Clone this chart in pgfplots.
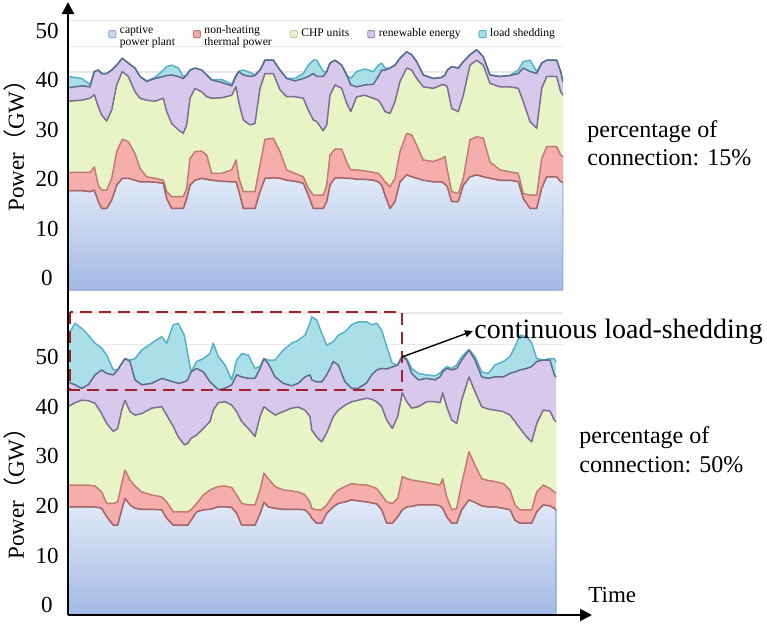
\documentclass[border=0pt]{standalone}
\usepackage{fontspec}
\setmainfont{Liberation Serif}
\newfontfamily\cjk{Noto Sans CJK SC}
\usepackage{pgfplots}
\pgfplotsset{compat=1.18}
\usepackage{pgfplotstable}
\usetikzlibrary{arrows.meta}

\definecolor{bTop}{HTML}{E3EBF8}
\definecolor{bBot}{HTML}{A3B9E4}
\definecolor{bEdge}{HTML}{8FA9D9}
\definecolor{capL}{HTML}{A86464}
\definecolor{nhF}{HTML}{F5AEAB}
\definecolor{nhL}{HTML}{BF7C74}
\definecolor{chpF}{HTML}{E8F4C6}
\definecolor{chpL}{HTML}{7B6F8F}
\definecolor{renF}{HTML}{D8C9EC}
\definecolor{renL}{HTML}{5D6C8C}
\definecolor{lsF}{HTML}{AADFE9}
\definecolor{lsL}{HTML}{55B2C6}
\definecolor{boxred}{HTML}{A3212A}

% top panel: 15% connection (cumulative tops of each layer, GW)
\pgfplotstableread{
x cap nh chp ren ls
0 17.7 21.4 35.8 38.5 40.8
13.7 17.7 21.4 36.0 38.9 40.4
22 17.5 21.4 36.4 38.7 39.2
26.3 17.8 22.5 37.1 41.8 41.8
30.3 15.5 18.8 34.7 42.1 42.1
33.7 14.1 17.8 33.0 41.4 41.4
38.7 14.1 17.8 31.8 41.4 41.4
43.7 15.8 20.2 34.0 42.1 42.1
48.7 18.8 25.6 39.1 43.1 43.1
54.3 20.2 28.1 41.8 44.5 44.5
60.3 20.2 27.6 40.8 43.5 43.5
67 19.8 25.2 37.7 42.5 42.5
72 19.5 22.2 36.4 40.8 40.8
78.7 19.5 20.5 36.0 39.8 39.9
87 19.4 20.2 35.8 40.4 40.6
95.3 19.2 19.8 36.4 40.8 42.1
98.7 16.1 17.5 33.7 41.0 42.8
103.7 14.1 16.5 31.3 41.1 43.1
110.3 14.1 16.5 30.0 40.8 42.5
115.3 14.1 16.5 29.3 40.4 40.8
118.7 16.1 18.2 31.0 41.1 41.1
122 18.8 24.2 36.4 42.1 42.1
127 19.8 25.6 38.4 42.5 42.5
133.7 20.2 25.7 37.7 42.1 42.1
138.7 20.0 24.9 36.7 41.1 41.1
143.7 19.8 21.2 36.4 40.1 40.1
153.7 19.6 21.2 36.5 39.6 40.2
163.7 19.5 21.9 37.0 38.9 39.2
168 19.5 23.9 38.7 40.8 41.1
171 17.5 20.2 35.4 41.8 41.9
175.3 14.1 17.5 32.0 41.1 42.1
182 14.1 17.5 31.0 40.8 41.6
187 14.1 17.5 31.3 41.0 41.1
192 17.5 22.9 38.4 42.1 42.1
197 20.2 28.1 41.4 44.1 44.1
205.3 20.3 28.3 41.4 44.1 44.1
212 20.2 25.6 38.1 42.1 42.1
218.7 19.8 21.9 36.7 40.4 40.4
227 19.6 21.2 36.7 39.9 40.4
235.3 19.2 20.5 36.4 40.4 41.4
240.3 16.8 18.2 34.0 40.8 43.1
245.3 14.1 16.8 32.0 41.4 44.1
248.7 14.1 16.8 31.7 40.8 44.1
255.3 14.1 16.8 29.8 40.8 41.8
258.7 15.5 18.8 31.0 41.8 41.8
262 18.8 24.9 37.0 43.5 43.5
267 20.3 26.1 39.1 44.1 44.1
273.7 20.3 26.1 38.4 43.1 43.1
278.7 20.2 23.5 35.4 41.1 41.1
282.7 20.2 21.9 33.7 39.1 40.4
288.7 20.0 21.9 36.7 38.7 41.8
297 20.0 21.7 37.0 39.1 42.3
305.3 19.8 21.4 36.4 39.2 41.8
310.3 19.5 21.2 36.0 40.8 43.1
313.7 18.8 20.5 35.0 42.1 43.5
317 16.8 19.5 33.7 42.1 42.5
322 14.1 18.5 33.3 42.5 42.5
327 15.5 20.2 35.7 43.1 43.1
332 19.5 25.6 39.8 44.5 44.5
338.7 20.9 29.3 42.5 45.8 45.8
343.7 20.5 29.0 42.1 45.2 45.2
348.7 20.2 26.9 40.4 43.8 43.8
355.3 19.8 23.9 38.7 41.1 41.1
365.3 19.5 23.6 38.4 40.4 40.4
373.7 19.5 24.2 39.1 40.6 40.6
377 19.0 24.6 39.1 41.1 41.1
379.3 18.5 21.9 38.7 42.1 42.1
383.7 15.5 17.5 34.3 42.8 42.8
390.3 15.5 17.1 33.7 42.5 42.5
395.3 18.8 20.2 37.0 43.8 43.8
402 20.5 28.0 43.1 45.2 45.2
408.7 20.9 28.6 44.1 46.2 46.2
415.3 20.5 28.3 43.1 44.8 44.8
422 20.2 23.5 39.4 41.1 41.1
432 19.8 21.9 38.7 40.8 40.8
442 19.8 21.5 38.7 41.0 41.0
450.3 19.5 21.2 38.4 41.4 42.1
455.3 16.1 17.1 35.7 42.5 43.8
462 14.1 16.8 31.7 41.8 44.1
468.7 14.1 16.8 30.3 41.4 41.8
473.7 18.2 24.2 38.4 43.5 43.5
478.7 20.5 26.6 40.8 44.1 44.1
488.7 20.5 26.6 40.8 44.1 44.1
492.7 19.5 24.9 37.7 41.8 41.8
495 19.5 24.6 37.0 39.7 39.7
}\toptab

% bottom panel: 50% connection
\pgfplotstableread{
x cap nh chp ren ls
0 19.8 24.2 40.0 45.0 54.4
7 19.8 24.2 40.8 44.4 56.8
13.7 19.8 24.2 41.3 43.7 55.8
20.3 19.8 24.2 41.2 44.4 54.4
27 19.8 24.0 40.7 46.4 52.8
33.7 19.5 22.8 38.6 47.4 51.8
38.7 17.8 20.5 36.6 46.7 50.4
45.3 16.1 20.5 35.0 46.4 47.4
49.7 16.1 20.8 35.6 47.4 47.4
53.7 19.2 24.5 39.3 48.7 48.7
57 21.5 27.2 41.3 49.7 49.7
62 20.2 25.2 39.0 49.1 49.4
67 19.5 24.0 38.3 45.4 49.7
73.7 19.3 22.8 38.6 44.4 51.4
83.7 19.3 22.2 39.7 44.7 52.8
93.7 19.2 21.8 40.0 45.7 54.1
98.7 17.5 20.8 38.3 45.4 52.8
105.3 16.1 18.8 36.0 45.0 56.5
110.3 16.1 18.8 33.9 44.7 56.8
116.3 16.1 18.8 32.3 45.0 54.4
119.7 16.1 18.8 32.6 45.4 50.7
123 17.1 19.2 33.6 47.0 47.0
128.7 18.8 20.5 34.3 47.7 49.1
135.3 19.2 22.2 35.6 47.0 49.7
142 19.3 23.2 37.0 45.0 50.7
145.3 19.5 23.5 39.3 44.4 52.8
150.3 19.8 23.9 40.8 43.4 50.1
157 19.8 24.0 41.0 43.7 48.4
163.7 19.7 23.7 40.3 44.4 45.4
168.7 18.5 22.2 39.0 46.4 49.4
173.7 16.1 20.5 37.0 46.0 50.7
180.3 16.1 20.2 35.6 45.7 50.4
187 16.1 20.2 34.0 45.7 47.7
192 18.4 23.2 38.0 47.7 48.1
196 20.7 26.6 40.0 49.7 49.7
200.3 19.8 25.5 39.3 48.7 49.4
207 19.5 23.9 38.3 46.0 49.4
215.3 19.3 23.2 39.0 44.7 51.4
223.7 19.3 23.0 39.7 44.2 52.8
230.3 19.3 22.8 39.9 44.7 53.4
237 19.2 22.2 39.3 46.0 54.4
242 18.2 20.8 38.0 46.4 56.8
243.7 17.5 19.5 35.3 45.4 58.1
248.7 16.5 19.2 33.9 45.0 57.5
253.7 16.5 19.2 32.9 45.0 54.8
258.7 18.5 20.2 34.7 46.4 52.4
265.3 19.8 22.2 38.0 49.1 53.1
270.3 20.5 23.2 39.3 48.4 54.4
277 20.8 23.9 40.3 45.0 55.1
283.7 21.2 24.5 41.0 43.7 56.5
290.3 21.0 24.3 41.3 43.7 57.1
298.7 20.8 24.2 41.7 44.8 57.1
303.7 20.6 23.9 41.5 46.4 56.5
308.7 20.4 23.5 41.0 47.4 56.8
313.7 19.2 22.2 40.0 47.7 55.4
318.7 16.5 20.8 37.3 47.6 52.1
324.3 16.5 20.5 35.6 48.0 48.7
329.7 17.8 21.5 38.0 48.4 48.4
334.3 19.2 25.9 42.8 50.1 50.4
338.7 19.8 25.5 41.0 49.4 49.7
343.7 19.9 25.2 39.7 46.7 47.7
350.3 20.2 25.0 40.0 45.4 46.7
358.7 20.2 24.7 41.0 45.7 46.4
367 20.2 24.4 41.0 45.4 46.2
372 20.0 24.2 40.8 46.0 46.8
374.7 19.5 25.5 42.8 47.0 47.4
378.7 17.8 21.8 40.0 47.7 48.1
383.7 16.5 19.2 37.3 47.4 47.7
388.7 16.5 19.5 36.6 47.7 48.4
393.7 19.2 24.5 41.3 49.4 50.1
401 21.2 30.9 46.0 51.4 51.5
407 20.7 28.2 43.0 49.4 50.1
413.7 20.0 25.5 40.0 46.0 47.0
420.3 19.8 25.1 39.5 45.7 46.7
427 19.8 24.9 39.3 46.0 48.4
435.3 19.5 24.5 39.0 46.0 49.1
442 19.2 23.2 38.3 46.7 50.1
447 17.1 20.2 37.0 47.0 52.1
452 16.5 19.2 35.6 47.4 54.4
458.7 16.5 19.2 33.9 47.7 54.1
463.7 16.5 19.2 32.9 48.1 52.8
468.7 18.8 22.8 36.6 49.1 49.7
475.3 20.2 24.2 39.3 49.4 49.4
482 20.0 23.5 39.1 49.4 49.7
486.3 19.5 22.8 37.3 46.4 49.7
488 19.2 22.6 37.0 46.0 49.0
}\bottab

\pgfplotsset{
  panel/.style={
    scale only axis, width=247.5pt,
    xmin=0, xmax=495,
    axis line style={draw=none},
    tick style={draw=none}, major tick length=0pt,
    xtick=\empty, ytick={0,10,20,30,40,50},
    /pgf/number format/assume math mode=true,
    yticklabel style={anchor=center, xshift=-10.5pt, font=\rmfamily\fontsize{11.5}{12}\selectfont},
    extra y tick labels={},
    extra y tick style={grid=major, major grid style={draw=black!9, line width=0.6pt}},
    ylabel={Power{\cjk （}GW{\cjk ）}},
    clip=true,
  },
  fl/.style={draw=none, forget plot},
  ln/.style={line width=0.75pt, line join=round, forget plot},
  sqleg/.style={legend image code/.code={\draw[##1, line width=0.45pt, rounded corners=0.5pt] (0pt,-1.75pt) rectangle (3.5pt,1.75pt);}},
}

\begin{document}
\begin{tikzpicture}
\useasboundingbox (0pt,0pt) rectangle (383.5pt,-313.5pt);

% ---------- top panel ----------
\begin{axis}[panel, at={(34pt,-145pt)}, anchor=south west,
  height=136pt, ymin=-2.4, ymax=52.63,
  extra y ticks={41.7,46.9,52.2},
  every axis y label/.style={at={(rel axis cs:-0.107,0.551)}, rotate=90, anchor=center, font=\fontsize{11.5}{12}\selectfont},
  legend columns=5, legend cell align=left,
  legend style={at={(rel axis cs:0.0808,0.941)}, anchor=west, draw=none, fill=none,
    inner sep=0pt, font=\fontsize{5.8}{6}\selectfont,
    /tikz/every even column/.append style={column sep=7.2pt},
    nodes={inner xsep=1.8pt}},
]
\addplot[fl, fill=lsF] table[x=x,y=ls]{\toptab} |- (axis cs:0,-2.4) -- cycle;
\addplot[fl, fill=renF] table[x=x,y=ren]{\toptab} |- (axis cs:0,-2.4) -- cycle;
\addplot[fl, fill=chpF] table[x=x,y=chp]{\toptab} |- (axis cs:0,-2.4) -- cycle;
\addplot[fl, fill=nhF] table[x=x,y=nh]{\toptab} |- (axis cs:0,-2.4) -- cycle;
\addplot[forget plot, draw=bEdge, line width=0.6pt, top color=bTop, bottom color=bBot] table[x=x,y=cap]{\toptab} |- (axis cs:0,-2.4) -- cycle;
\addplot[ln, lsL] table[x=x,y=ls]{\toptab};
\addplot[ln, renL] table[x=x,y=ren]{\toptab};
\addplot[ln, chpL] table[x=x,y=chp]{\toptab};
\addplot[ln, nhL] table[x=x,y=nh]{\toptab};
\addplot[ln, capL] table[x=x,y=cap]{\toptab};
\addlegendimage{sqleg, fill=bTop!60!bBot, draw=bEdge}
\addlegendentry{\begin{tabular}{@{}l@{}}captive\\power plant\end{tabular}}
\addlegendimage{sqleg, fill=nhF, draw=nhL}
\addlegendentry{\begin{tabular}{@{}l@{}}non-heating\\thermal power\end{tabular}}
\addlegendimage{sqleg, fill=chpF, draw=chpF!60!black!40!chpF}
\addlegendentry{CHP units}
\addlegendimage{sqleg, fill=renF, draw=renF!70!black}
\addlegendentry{renewable energy}
\addlegendimage{sqleg, fill=lsF, draw=lsL}
\addlegendentry{load shedding}
\end{axis}

% ---------- bottom panel ----------
\begin{axis}[panel, at={(34pt,-307.5pt)}, anchor=south west,
  height=157.5pt, ymin=-2, ymax=61.5,
  extra y ticks={52.6,58.9},
  every axis y label/.style={at={(rel axis cs:-0.107,0.403)}, rotate=90, anchor=center, font=\fontsize{11.5}{12}\selectfont},
]
\addplot[fl, fill=lsF] table[x=x,y=ls]{\bottab} |- (axis cs:0,-2) -- cycle;
\addplot[fl, fill=renF] table[x=x,y=ren]{\bottab} |- (axis cs:0,-2) -- cycle;
\addplot[fl, fill=chpF] table[x=x,y=chp]{\bottab} |- (axis cs:0,-2) -- cycle;
\addplot[fl, fill=nhF] table[x=x,y=nh]{\bottab} |- (axis cs:0,-2) -- cycle;
\addplot[forget plot, draw=bEdge, line width=0.6pt, top color=bTop, bottom color=bBot] table[x=x,y=cap]{\bottab} |- (axis cs:0,-2) -- cycle;
\addplot[ln, lsL] table[x=x,y=ls]{\bottab};
\addplot[ln, renL] table[x=x,y=ren]{\bottab};
\addplot[ln, chpL] table[x=x,y=chp]{\bottab};
\addplot[ln, nhL] table[x=x,y=nh]{\bottab};
\addplot[ln, capL] table[x=x,y=cap]{\bottab};
\end{axis}

% ---------- annotations ----------
\draw[boxred, line width=1.2pt, dash pattern=on 6pt off 3.5pt] (35pt,-156pt) rectangle (201pt,-195pt);
\draw[line width=1pt, -{Triangle[length=6pt,width=6pt]}] (34pt,-307.5pt) -- (34pt,-1pt);
\draw[line width=1pt, -{Triangle[length=6pt,width=6pt]}] (34pt,-307.5pt) -- (296pt,-307.5pt);
\draw[line width=0.7pt, -{Triangle[length=4pt,width=3.5pt]}] (201pt,-178.5pt) -- (236.5pt,-165.5pt);
\node[anchor=base west, inner sep=0pt, font=\fontsize{14}{16}\selectfont] at (237pt,-169pt) {continuous load-shedding};
\node[anchor=base west, inner sep=0pt, font=\fontsize{12}{14}\selectfont] at (293.5pt,-68.5pt) {percentage of};
\node[anchor=base west, inner sep=0pt, font=\fontsize{12}{14}\selectfont] at (293.5pt,-82.5pt) {connection: 15\%};
\node[anchor=base west, inner sep=0pt, font=\fontsize{12}{14}\selectfont] at (289.5pt,-221.5pt) {percentage of};
\node[anchor=base west, inner sep=0pt, font=\fontsize{12}{14}\selectfont] at (289.5pt,-236pt) {connection: 50\%};
\node[anchor=base west, inner sep=0pt, font=\fontsize{11.5}{13}\selectfont] at (294pt,-301pt) {Time};
\end{tikzpicture}
\end{document}
